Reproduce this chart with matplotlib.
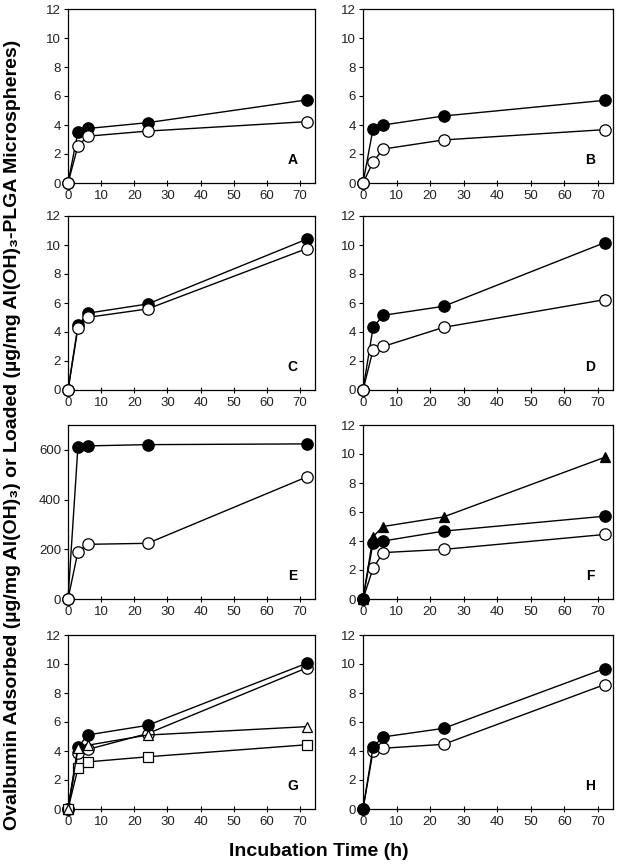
import numpy as np
import matplotlib
matplotlib.use('Agg')
import matplotlib.pyplot as plt

plt.rcParams['font.family'] = ['Liberation Sans', 'DejaVu Sans']

t = [0, 3, 6, 24, 72]

# panel data (filled / open circles etc.)
a_filled = [0, 3.53, 3.76, 4.16, 5.73]
a_open = [0, 2.56, 3.23, 3.58, 4.23]
b_filled = [0, 3.75, 4.0, 4.62, 5.7]
b_open = [0, 1.45, 2.34, 2.97, 3.68]
c_filled = [0, 4.45, 5.3, 5.93, 10.4]
c_open = [0, 4.27, 5.01, 5.59, 9.75]
d_filled = [0, 4.32, 5.15, 5.77, 10.16]
d_open = [0, 2.77, 3.0, 4.32, 6.23]
e_filled = [0, 613, 616, 621, 624]
e_open = [0, 191, 220, 224, 491]
f_tri = [0, 4.3, 5.0, 5.66, 9.77]
f_filled = [0, 3.88, 4.0, 4.68, 5.71]
f_open = [0, 2.12, 3.2, 3.42, 4.45]
g_filled = [0, 4.27, 5.11, 5.77, 10.05]
g_open = [0, 3.86, 4.11, 5.2, 9.73]
g_tri = [0, 4.2, 4.4, 5.1, 5.68]
g_sq = [0, 2.8, 3.25, 3.6, 4.43]
h_filled = [0, 4.28, 4.97, 5.56, 9.68]
h_open = [0, 4.0, 4.19, 4.46, 8.58]

xticks = [0, 10, 20, 30, 40, 50, 60, 70]

fig = plt.figure(figsize=(6.2, 8.64), dpi=100)

lefts = [68 / 620., 363 / 620.]
widths = [247 / 620., 250 / 620.]
bottoms_px = [183, 390, 599, 809]
h = 174 / 864.

ms = 8.2


def series(ax, y, marker, face, z):
    ax.plot(t, y, color='black', lw=1.0, marker=marker, ms=ms if marker == 'o' else ms - 0.6,
            mfc=face, mec='black', mew=0.9, zorder=z, clip_on=False)


panels = [
    ('A', [(a_filled, 'o', 'black'), (a_open, 'o', 'white')], 12),
    ('B', [(b_filled, 'o', 'black'), (b_open, 'o', 'white')], 12),
    ('C', [(c_filled, 'o', 'black'), (c_open, 'o', 'white')], 12),
    ('D', [(d_filled, 'o', 'black'), (d_open, 'o', 'white')], 12),
    ('E', [(e_filled, 'o', 'black'), (e_open, 'o', 'white')], 700),
    ('F', [(f_tri, '^', 'black'), (f_open, 'o', 'white'), (f_filled, 'o', 'black')], 12),
    ('G', [(g_open, 'o', 'white'), (g_filled, 'o', 'black'), (g_sq, 's', 'white'), (g_tri, '^', 'white')], 12),
    ('H', [(h_open, 'o', 'white'), (h_filled, 'o', 'black')], 12),
]

for i, (letter, lines, ymax) in enumerate(panels):
    row, col = i // 2, i % 2
    ax = fig.add_axes([lefts[col], 1 - bottoms_px[row] / 864., widths[col], h])
    for k, (y, m, f) in enumerate(lines):
        series(ax, y, m, f, 3 + k)
    ax.set_xlim(0, 74.5)
    ax.set_ylim(0, ymax)
    ax.set_xticks(xticks)
    if ymax == 700:
        ax.set_yticks([0, 200, 400, 600])
    else:
        ax.set_yticks([0, 2, 4, 6, 8, 10, 12])
    ax.tick_params(axis='x', direction='inout', length=4, width=0.8, labelsize=9.5,
                   labelcolor='#222222', pad=3)
    ax.tick_params(axis='y', direction='out', length=3, width=0.8, labelsize=9.5,
                   labelcolor='#222222', pad=2)
    for s in ax.spines.values():
        s.set_linewidth(0.9)
    ax.text(0.91, 0.13, letter, transform=ax.transAxes, ha='center', va='center',
            fontsize=10, fontweight='bold')

fig.text(0.02, 0.497,
         'Ovalbumin Adsorbed (\u00b5g/mg Al(OH)\u2083) or Loaded (\u00b5g/mg Al(OH)\u2083-PLGA Microspheres)',
         rotation=90, ha='center', va='center', fontsize=14, fontweight='bold')
fig.text(0.515, 0.014, 'Incubation Time (h)', ha='center', va='center',
         fontsize=14, fontweight='bold')

fig.savefig('out.png', dpi=100)
